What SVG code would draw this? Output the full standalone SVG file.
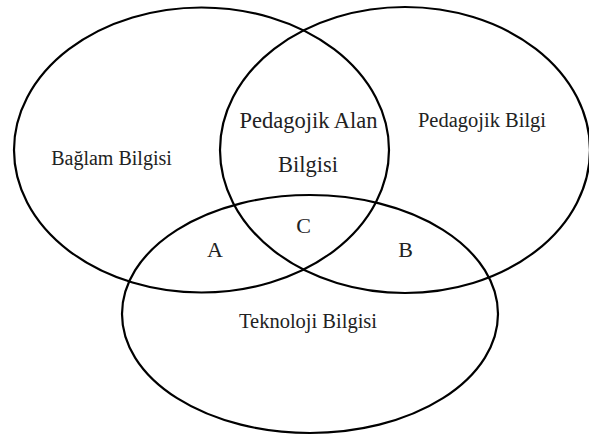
<svg xmlns="http://www.w3.org/2000/svg" width="589" height="437" viewBox="0 0 589 437">
<style>
.e{fill:none;stroke:#000;stroke-width:2.2}
text{font-family:"Liberation Serif","Times New Roman",serif;fill:#222;text-anchor:middle}
</style>
<rect width="589" height="437" fill="#fff"/>
<g id="baglam">
<ellipse class="e" cx="201.5" cy="150" rx="187.5" ry="142.5"/>
<text x="111.5" y="165" font-size="20">Bağlam Bilgisi</text>
</g>
<g id="pedagojik">
<ellipse class="e" cx="405" cy="150" rx="185" ry="143"/>
<text x="482" y="127" font-size="20.5">Pedagojik Bilgi</text>
</g>
<g id="teknoloji">
<ellipse class="e" cx="310" cy="314" rx="188" ry="119"/>
<text x="308" y="328" font-size="20.5">Teknoloji Bilgisi</text>
</g>
<g id="pedagojik-alan">
<text x="308.5" y="128" font-size="22.5">Pedagojik Alan</text>
<text x="308" y="172" font-size="22.5">Bilgisi</text>
</g>
<g id="regions" font-size="22">
<text x="215" y="257">A</text>
<text x="303.5" y="233">C</text>
<text x="405.5" y="257">B</text>
</g>
</svg>
